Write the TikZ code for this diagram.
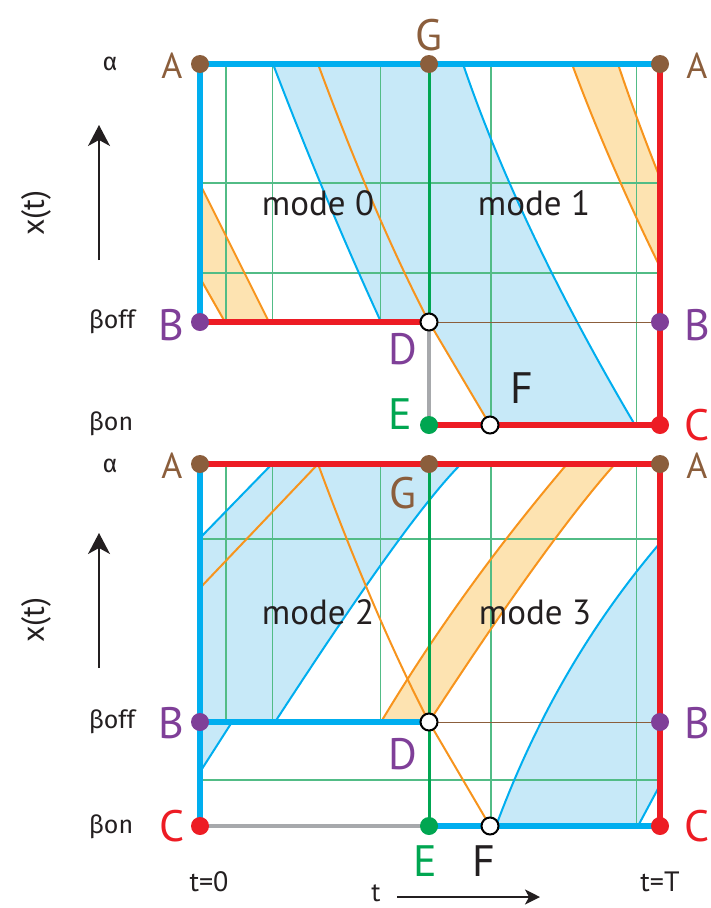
\documentclass[tikz,border=0pt]{standalone}
\usepackage{fontspec}
\setmainfont{PT Sans}
\newfontfamily\gfont{Fira Sans}
\usetikzlibrary{arrows.meta}
\definecolor{cyanb}{HTML}{00AEEF}
\definecolor{lblue}{HTML}{C7E9F8}
\definecolor{orng}{HTML}{F7941D}
\definecolor{lorng}{HTML}{FDE3B1}
\definecolor{redd}{HTML}{ED1C24}
\definecolor{grn}{HTML}{00A651}
\definecolor{gridg}{HTML}{52BC86}
\definecolor{brwn}{HTML}{8B5E3C}
\definecolor{purp}{HTML}{7F3F98}
\definecolor{gry}{HTML}{A7A9AC}
\definecolor{ink}{HTML}{231F20}
\tikzset{
  dotn/.style={circle, inner sep=0pt, minimum size=18pt, draw=none},
  odot/.style={circle, inner sep=0pt, minimum size=17pt, fill=white, draw=black, line width=2pt},
  biglbl/.style={inner sep=0pt, font=\fontsize{44}{48}\selectfont},
  albl/.style={inner sep=0pt, font=\fontsize{36}{40}\selectfont, text=brwn},
  modelbl/.style={inner sep=0pt, font=\fontsize{35}{38}\selectfont, text=ink},
  glbl/.style={inner sep=0pt, font=\gfont\fontsize{25}{28}\selectfont, text=ink},
  tlbl/.style={inner sep=0pt, font=\fontsize{28}{32}\selectfont, text=ink},
  gridl/.style={draw=gridg, line width=1.2pt},
  thick6/.style={line width=6pt},
  cyanline/.style={draw=cyanb, thick6},
  redline/.style={draw=redd, thick6},
  greyline/.style={draw=gry, line width=4.5pt},
  greenline/.style={draw=grn, line width=3pt},
  brownthin/.style={draw=brwn, line width=1pt},
  bcurve/.style={draw=cyanb, line width=2pt},
  ocurve/.style={draw=orng, line width=2pt},
}
\begin{document}
\begin{tikzpicture}[x=1pt,y=-1pt]
\useasboundingbox (0,0) rectangle (711,908);

% ================= TOP PANEL =================
% fills
\fill[lblue] (273,64) -- (463,64) .. controls (500.2,173.3) and (557.5,293.7) .. (635,425) -- (490,425) -- (429,322) -- (381,322) .. controls (343,239.3) and (307,153) .. (273,64) -- cycle;
\fill[lorng] (572,64) -- (618,64) .. controls (631,103) and (645,140) .. (660,178) -- (660,267) .. controls (625,195.7) and (595.7,128) .. (572,64) -- cycle;
\fill[lorng] (200,184) -- (269,322) -- (225,322) -- (200,278) -- cycle;
% grid
\foreach \gx in {226,272.7,380.7} \draw[gridl] (\gx,64) -- (\gx,322);
\foreach \gx in {491,636.7} \draw[gridl] (\gx,64) -- (\gx,425);
\foreach \gy in {183,273} \draw[gridl] (200,\gy) -- (660,\gy);
% curves
\draw[bcurve] (273,64) .. controls (307,153) and (343,239.3) .. (381,322);
\draw[bcurve] (463,64) .. controls (500.2,173.3) and (557.5,293.7) .. (635,425);
\draw[ocurve] (318,64) .. controls (356.1,167.1) and (393.1,253.1) .. (429,322) -- (490,425);
\draw[ocurve] (618,64) .. controls (631,103) and (645,140) .. (660,178);
\draw[ocurve] (572,64) .. controls (595.7,128) and (625,195.7) .. (660,267);
\draw[ocurve] (200,184) -- (269,322);
\draw[ocurve] (200,278) -- (225,322);

% point nodes (top)
\coordinate (A1) at (200,64);  \coordinate (G1) at (429,64);  \coordinate (A1r) at (660,64);
\coordinate (B1) at (200,322); \coordinate (D1) at (429,322); \coordinate (B1r) at (660,322);
\coordinate (E1) at (429,425); \coordinate (F1) at (490,425); \coordinate (C1r) at (660,425);

% frame lines (top)
\draw[brownthin] (D1) -- (B1r);
\draw[cyanline] (A1) -- (G1) -- (A1r);
\draw[cyanline] (A1) -- (B1);
\draw[redline] (B1) -- (D1);
\draw[redline] (A1r) -- (C1r);
\draw[redline] (E1) -- (C1r);
\draw[greyline] (D1) -- (E1);
\draw[greenline] (G1) -- (D1);

% dots (top)
\node[dotn, fill=brwn] (dA1) at (A1) {};
\node[dotn, fill=brwn] (dG1) at (G1) {};
\node[dotn, fill=brwn] (dA1r) at (A1r) {};
\node[dotn, fill=purp] (dB1) at (B1) {};
\node[dotn, fill=purp] (dB1r) at (B1r) {};
\node[dotn, fill=grn] (dE1) at (E1) {};
\node[dotn, fill=redd] (dC1r) at (C1r) {};
\node[odot] (dD1) at (D1) {};
\node[odot] (dF1) at (F1) {};

% labels (top)
\node[albl] (lA1) at (172,66) {A};
\node[albl] (lA1r) at (697,66) {A};
\node[biglbl, text=brwn] (lG1) at (429,35) {G};
\node[biglbl, text=purp] (lB1) at (171,325) {B};
\node[biglbl, text=purp] (lB1r) at (697,325) {B};
\node[biglbl, text=purp] (lD1) at (403,349) {D};
\node[biglbl, text=grn] (lE1) at (400,414) {E};
\node[biglbl, text=ink] (lF1) at (522,388) {F};
\node[biglbl, text=redd] (lC1r) at (697,425) {C};
\node[modelbl] (m0) at (318,203) {mode 0};
\node[modelbl] (m1) at (534,203) {mode 1};
\node[glbl] (al1) at (110,64) {α};
\node[glbl] (bo1) at (112,322) {βoff};
\node[glbl] (bn1) at (111,424) {βon};
\node[tlbl, rotate=90, font=\fontsize{32}{36}\selectfont] (xt1) at (36,213) {x(t)};
\coordinate (ar1s) at (99,260); \coordinate (ar1e) at (99,125);
\draw[ink, line width=1.5pt, -{Stealth[length=21pt,width=22pt,inset=6pt]}] (ar1s) -- (ar1e);

% ================= BOTTOM PANEL =================
\fill[lblue] (200,538) -- (272,464) -- (461,464) .. controls (411,514) and (322,650) .. (275,722) -- (200,722) -- cycle;
\fill[lblue] (200,722) -- (232,722) -- (200,772) -- cycle;
\fill[lblue] (660,543) .. controls (590,625) and (535.3,719.7) .. (496,826) -- (638,826) -- (660,785) -- cycle;
\fill[lorng] (381,722) .. controls (434.2,633.3) and (496.2,547.3) .. (567,464) -- (615,464) .. controls (569.7,514.9) and (505,605) .. (429,722) -- cycle;
% grid
\foreach \gx in {226,272.7,380.7} \draw[gridl] (\gx,464) -- (\gx,722);
\foreach \gx in {491,636.7} \draw[gridl] (\gx,464) -- (\gx,826);
\foreach \gy in {539,780} \draw[gridl] (200,\gy) -- (660,\gy);
% curves
\draw[bcurve] (200,538) -- (272,464);
\draw[bcurve] (461,464) .. controls (411,514) and (322,650) .. (275,722);
\draw[bcurve] (232,722) -- (200,772);
\draw[bcurve] (660,543) .. controls (590,625) and (535.3,719.7) .. (496,826);
\draw[bcurve] (638,826) -- (660,785);
\draw[ocurve] (381,722) .. controls (434.2,633.3) and (496.2,547.3) .. (567,464);
\draw[ocurve] (615,464) .. controls (569.7,514.9) and (505,605) .. (429,722);
\draw[ocurve] (200,588) -- (318,464);
\draw[ocurve] (318,464) .. controls (356.1,567.1) and (393.1,653.1) .. (429,722) -- (490,826);

\coordinate (A2) at (200,464);  \coordinate (G2) at (429,464);  \coordinate (A2r) at (660,464);
\coordinate (B2) at (200,722);  \coordinate (D2) at (429,722);  \coordinate (B2r) at (660,722);
\coordinate (C2) at (200,826);  \coordinate (E2) at (429,826);  \coordinate (F2) at (490,826); \coordinate (C2r) at (660,826);

\draw[brownthin] (D2) -- (B2r);
\draw[redline] (A2) -- (G2) -- (A2r);
\draw[cyanline] (A2) -- (C2);
\draw[cyanline] (B2) -- (D2);
\draw[redline] (A2r) -- (C2r);
\draw[greyline] (C2) -- (E2);
\draw[cyanline] (E2) -- (C2r);
\draw[greenline] (G2) -- (E2);

\node[dotn, fill=brwn] (dA2) at (A2) {};
\node[dotn, fill=brwn] (dG2) at (G2) {};
\node[dotn, fill=brwn] (dA2r) at (A2r) {};
\node[dotn, fill=purp] (dB2) at (B2) {};
\node[dotn, fill=purp] (dB2r) at (B2r) {};
\node[dotn, fill=redd] (dC2) at (C2) {};
\node[dotn, fill=grn] (dE2) at (E2) {};
\node[dotn, fill=redd] (dC2r) at (C2r) {};
\node[odot] (dD2) at (D2) {};
\node[odot] (dF2) at (F2) {};

\node[albl] (lA2) at (172,466) {A};
\node[albl] (lA2r) at (697,466) {A};
\node[biglbl, text=brwn] (lG2) at (403,493) {G};
\node[biglbl, text=purp] (lB2) at (171,723) {B};
\node[biglbl, text=purp] (lB2r) at (697,723) {B};
\node[biglbl, text=purp] (lD2) at (403,754) {D};
\node[biglbl, text=redd] (lC2) at (172,826) {C};
\node[biglbl, text=redd] (lC2r) at (697,826) {C};
\node[biglbl, text=grn] (lE2) at (425,861) {E};
\node[biglbl, text=ink] (lF2) at (484,861) {F};
\node[modelbl] (m2) at (318,612) {mode 2};
\node[modelbl] (m3) at (535,612) {mode 3};
\node[glbl] (al2) at (110,466) {α};
\node[glbl] (bo2) at (112,722) {βoff};
\node[glbl] (bn2) at (111,827) {βon};
\node[tlbl, rotate=90, font=\fontsize{32}{36}\selectfont] (xt2) at (36,620) {x(t)};
\coordinate (ar2s) at (99,668); \coordinate (ar2e) at (99,533);
\draw[ink, line width=1.5pt, -{Stealth[length=21pt,width=22pt,inset=6pt]}] (ar2s) -- (ar2e);

% time axis
\node[tlbl] (t0) at (209,882) {t=0};
\node[tlbl] (tT) at (660,882) {t=T};
\node[tlbl, font=\fontsize{27}{30}\selectfont] (tt) at (376,893) {t};
\coordinate (ta1) at (397,897); \coordinate (ta2) at (540,897);
\draw[ink, line width=1.5pt, -{Stealth[length=15pt,width=15pt,inset=4pt]}] (ta1) -- (ta2);
\end{tikzpicture}
\end{document}
